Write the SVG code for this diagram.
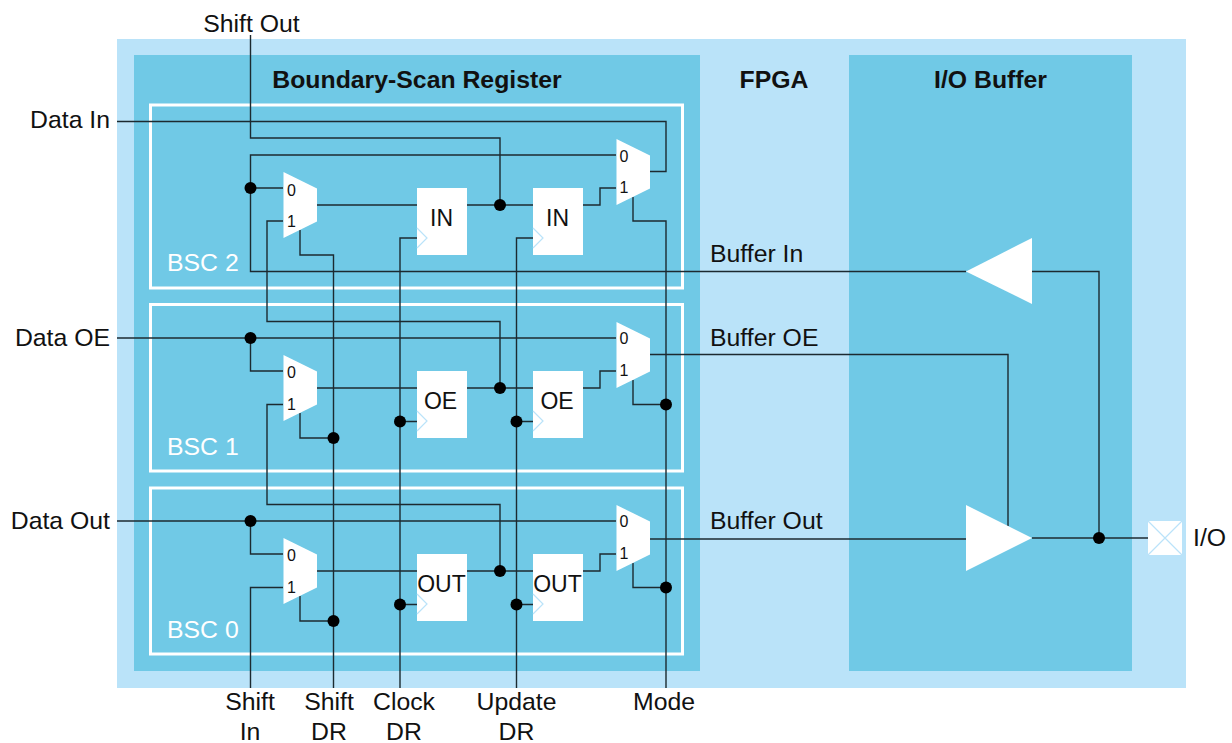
<svg xmlns="http://www.w3.org/2000/svg" width="1232" height="743" viewBox="0 0 1232 743">
<style>
text{font-family:"Liberation Sans",Arial,sans-serif;font-size:24.8px;fill:#111}
.b{font-weight:bold}
.m{text-anchor:middle}
.e{text-anchor:end}
.d{font-size:16px}
.f{font-size:23px}
.w{fill:#fff}
.bsc{fill:none;stroke:#fff;stroke-width:3}
.sh{fill:#fff}
.ck{fill:none;stroke:#bae3f9;stroke-width:1.2}
#wires path{fill:none;stroke:#1c2a30;stroke-width:1.4}
#dots circle{fill:#000}
</style>
<defs>
<polygon id="mux" class="sh" points="0,0 33.500,16.500 33.500,49.500 0,66"/>
<g id="ff"><rect class="sh" width="50" height="67"/><path class="ck" d="M0,40 L10,50 L0,60"/></g>
</defs>
<g id="background">
<rect x="117" y="39" width="1069" height="649" fill="#bae3f9"/>
<rect x="134" y="55" width="566" height="616" fill="#70c9e6"/>
<rect x="849" y="55" width="283" height="616" fill="#70c9e6"/>
<text class="b m" x="417" y="88">Boundary-Scan Register</text>
<text class="b m" x="774" y="88">FPGA</text>
<text class="b m" x="990.500" y="88">I/O Buffer</text>
</g>
<g id="bsc2"><rect class="bsc" x="150.500" y="105" width="532" height="183"/><text class="w" x="167" y="271">BSC 2</text></g>
<g id="bsc1"><rect class="bsc" x="150.500" y="304.500" width="532" height="166.500"/><text class="w" x="167" y="454.500">BSC 1</text></g>
<g id="bsc0"><rect class="bsc" x="150.500" y="488" width="532" height="166"/><text class="w" x="167" y="637.500">BSC 0</text></g>
<g id="wires">
<path d="M117,121.500H666V171.500H650"/>
<path d="M250.500,35V138H500V205"/>
<path d="M616,155H250.500V271.500H966"/>
<path d="M250.500,188H283"/>
<path d="M283,221H267V321.500H500V388"/>
<path d="M300,230V255H333.500V688"/>
<path d="M317,205H417M467,205H533M583,205H600V188H616"/>
<path d="M633,197V221H666V688"/>
<path d="M417,238H400V688"/>
<path d="M533,238H516.500V688"/>
<path d="M117,338H616"/>
<path d="M250.500,338V371H283"/>
<path d="M283,404.500H267V504.500H500V571"/>
<path d="M317,388H417M467,388H533M583,388H600V371H616"/>
<path d="M300,413V438H333.500"/>
<path d="M633,380V404.500H666"/>
<path d="M400,421.500H417M516.500,421.500H533"/>
<path d="M650,354.500H1008V526"/>
<path d="M117,521H616"/>
<path d="M250.500,521V554H283"/>
<path d="M283,587.500H250.500V688"/>
<path d="M317,571H417M467,571H533M583,571H600V554H616"/>
<path d="M300,596V621H333.500"/>
<path d="M633,563V587.500H666"/>
<path d="M400,604.500H417M516.500,604.500H533"/>
<path d="M650,539H966"/>
<path d="M1032,538H1148"/>
<path d="M1032,271.500H1099V538"/>
</g>
<g id="dots">
<circle cx="250.500" cy="188" r="6"/><circle cx="500" cy="205" r="6"/>
<circle cx="250.500" cy="338" r="6"/><circle cx="500" cy="388" r="6"/><circle cx="333.500" cy="438" r="6"/><circle cx="400" cy="421.500" r="6"/><circle cx="516.500" cy="421.500" r="6"/><circle cx="666" cy="404.500" r="6"/>
<circle cx="250.500" cy="521" r="6"/><circle cx="500" cy="571" r="6"/><circle cx="333.500" cy="621" r="6"/><circle cx="400" cy="604.500" r="6"/><circle cx="516.500" cy="604.500" r="6"/><circle cx="666" cy="587.500" r="6"/>
<circle cx="1099" cy="538" r="6"/>
</g>
<g id="mux2a"><use href="#mux" x="283.500" y="172"/><text class="d" x="287" y="195.500">0</text><text class="d" x="287" y="226.500">1</text></g>
<g id="mux2b"><use href="#mux" x="616.500" y="139"/><text class="d" x="619.500" y="161.500">0</text><text class="d" x="619.500" y="193">1</text></g>
<g id="mux1a"><use href="#mux" x="283.500" y="355"/><text class="d" x="287" y="378">0</text><text class="d" x="287" y="409.500">1</text></g>
<g id="mux1b"><use href="#mux" x="616.500" y="322"/><text class="d" x="619.500" y="344">0</text><text class="d" x="619.500" y="375.500">1</text></g>
<g id="mux0a"><use href="#mux" x="283.500" y="538"/><text class="d" x="287" y="561">0</text><text class="d" x="287" y="592.500">1</text></g>
<g id="mux0b"><use href="#mux" x="616.500" y="505"/><text class="d" x="619.500" y="527">0</text><text class="d" x="619.500" y="558.500">1</text></g>
<g id="ff2a"><use href="#ff" x="417" y="188"/><text class="m f" x="441.500" y="226">IN</text></g>
<g id="ff2b"><use href="#ff" x="533" y="188"/><text class="m f" x="557.500" y="226">IN</text></g>
<g id="ff1a"><use href="#ff" x="417" y="371"/><text class="m f" x="440.500" y="409">OE</text></g>
<g id="ff1b"><use href="#ff" x="533" y="371"/><text class="m f" x="557" y="409">OE</text></g>
<g id="ff0a"><use href="#ff" x="417" y="554"/><text class="m f" x="441.500" y="592">OUT</text></g>
<g id="ff0b"><use href="#ff" x="533" y="554"/><text class="m f" x="557.500" y="592">OUT</text></g>
<g id="buf-in"><polygon class="sh" points="1032,238 966,271.500 1032,304"/></g>
<g id="buf-out"><polygon class="sh" points="966,505 1032,538 966,571"/></g>
<g id="pad"><rect class="sh" x="1148" y="521" width="34" height="34"/><path class="ck" d="M1148,521L1182,555M1182,521L1148,555"/></g>
<g id="labels">
<text class="m" x="251.500" y="32">Shift Out</text>
<text class="e" x="110" y="128">Data In</text>
<text class="e" x="110" y="346">Data OE</text>
<text class="e" x="110" y="529">Data Out</text>
<text x="710" y="262">Buffer In</text>
<text x="710" y="346">Buffer OE</text>
<text x="710" y="529">Buffer Out</text>
<text x="1193" y="545.500">I/O</text>
<text class="m" x="250" y="710">Shift</text><text class="m" x="250" y="740">In</text>
<text class="m" x="329" y="710">Shift</text><text class="m" x="329" y="740">DR</text>
<text class="m" x="404" y="710">Clock</text><text class="m" x="404" y="740">DR</text>
<text class="m" x="516.500" y="710">Update</text><text class="m" x="516.500" y="740">DR</text>
<text class="m" x="664" y="710">Mode</text>
</g>
</svg>
